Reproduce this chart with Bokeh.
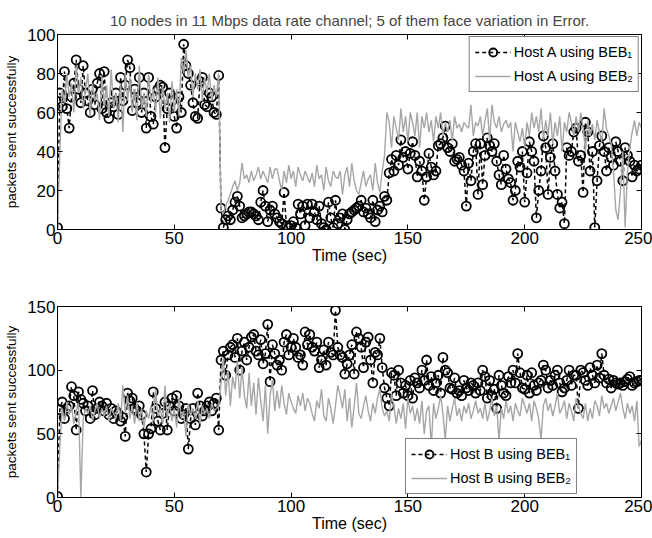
from bokeh.plotting import figure
from bokeh.layouts import column
from bokeh.models import Range1d, LinearAxis, Legend, LegendItem, FixedTicker
from bokeh.embed import file_html
from bokeh.resources import INLINE

# ---------------- data (one sample per second) ----------------
time_sec = list(range(251))

hostA_beb1 = [
    1, 70, 63, 81, 62, 52, 68, 75, 87, 72,
    65, 84, 70, 66, 60, 72, 64, 75, 80, 62,
    81, 60, 57, 65, 63, 70, 59, 78, 66, 74,
    87, 83, 61, 72, 65, 78, 60, 70, 52, 78,
    58, 54, 68, 72, 74, 73, 42, 62, 70, 66,
    58, 52, 68, 60, 95, 84, 80, 74, 65, 58,
    57, 76, 78, 64, 63, 70, 68, 60, 59, 79,
    11, 1, 5, 7, 5, 10, 14, 17, 12, 6,
    7, 8, 9, 9, 8, 7, 5, 14, 20, 12,
    4, 10, 12, 8, 6, 4, 3, 19, 2, 1,
    2, 4, 1, 13, 8, 12, 2, 13, 6, 13,
    9, 5, 12, 3, 1, 0, 14, 6, 1, 15,
    3, 6, 8, 0, 5, 8, 9, 10, 11, 12,
    15, 9, 11, 8, 6, 15, 4, 10, 12, 9,
    17, 15, 29, 36, 30, 38, 33, 46, 37, 40,
    31, 39, 45, 38, 27, 35, 30, 15, 27, 39,
    32, 28, 30, 43, 44, 47, 53, 42, 40, 44,
    35, 36, 37, 33, 30, 12, 34, 25, 40, 44,
    18, 44, 23, 38, 47, 43, 40, 44, 35, 28,
    23, 38, 31, 26, 24, 15, 20, 35, 32, 40,
    14, 29, 45, 40, 35, 6, 20, 30, 48, 42,
    18, 37, 44, 30, 18, 11, 14, 3, 42, 38,
    40, 50, 52, 35, 38, 19, 55, 50, 30, 40,
    1, 25, 43, 48, 40, 30, 42, 37, 33, 45,
    40, 35, 25, 42, 38, 35, 27, 33, 30, 31,
    33,
]

hostA_beb2 = [
    0, 40, 72, 65, 80, 68, 75, 60, 84, 70,
    78, 62, 72, 80, 58, 75, 66, 70, 56, 79,
    63, 74, 58, 82, 62, 70, 55, 75, 50, 80,
    66, 78, 60, 72, 56, 84, 62, 70, 58, 80,
    65, 72, 60, 78, 57, 74, 62, 70, 55, 76,
    60, 72, 58, 88, 80, 92, 78, 84, 68, 80,
    72, 82, 66, 78, 70, 80, 66, 74, 68, 80,
    10, 8, 12, 15, 18, 22, 25, 20, 24, 34,
    26, 28, 24, 30, 25, 28, 32, 26, 30, 27,
    24, 32, 26, 31, 31, 25, 20, 30, 24, 33,
    26, 30, 22, 32, 28, 25, 30, 27, 24, 29,
    22, 33, 26, 28, 20, 32, 25, 22, 30, 27,
    26, 30, 18, 28, 32, 22, 34, 25, 20, 18,
    24, 30, 22, 26, 28, 20, 34, 24, 19, 30,
    38, 60, 55, 42, 58, 52, 46, 62, 50, 58,
    45, 60, 55, 48, 60, 42, 58, 52, 60, 50,
    56, 45, 58, 52, 60, 48, 55, 50, 56, 45,
    58, 52, 54, 50, 55, 53, 52, 64, 48, 55,
    53, 58, 48, 56, 62, 46, 64, 55, 52, 58,
    50, 54, 56, 52, 55, 40, 55, 50, 45, 52,
    42, 55, 48, 60, 52, 58, 50, 62, 46, 56,
    48, 60, 44, 55, 48, 58, 40, 55, 50, 60,
    55, 48, 58, 50, 60, 52, 40, 56, 48, 54,
    46, 56, 50, 45, 62, 52, 48, 44, 30, 10,
    5, 20, 40, 1, 30, 42, 50, 56, 48, 55,
    52,
]

hostB_beb1 = [
    1, 69, 75, 62, 70, 72, 87, 80, 53, 83,
    77, 74, 68, 72, 62, 84, 65, 70, 75, 72,
    68, 74, 65, 70, 62, 68, 66, 60, 63, 48,
    82, 76, 78, 70, 68, 72, 65, 50, 20, 50,
    54, 83, 70, 60, 53, 66, 75, 53, 72, 78,
    68, 80, 72, 62, 65, 70, 38, 62, 70, 57,
    82, 72, 64, 68, 72, 75, 68, 74, 78, 53,
    108, 115, 96, 112, 118, 120, 110, 125, 100, 115,
    122, 108, 118, 126, 128, 115, 112, 124, 105, 113,
    136, 91, 120, 113, 104, 108, 100, 122, 128, 112,
    118, 125, 118, 110, 112, 104, 130, 120, 128, 118,
    115, 122, 102, 108, 116, 104, 122, 114, 112, 147,
    118, 112, 110, 97, 105, 112, 120, 97, 130, 125,
    118, 102, 122, 126, 108, 90, 114, 112, 125, 102,
    86, 78, 72, 98, 96, 80, 100, 90, 82, 88,
    80, 92, 78, 94, 90, 86, 100, 92, 108, 88,
    95, 84, 90, 96, 82, 110, 100, 98, 86, 85,
    94, 82, 84, 80, 92, 86, 84, 90, 88, 82,
    90, 84, 100, 95, 78, 92, 80, 85, 70, 96,
    88, 82, 80, 95, 90, 100, 90, 113, 98, 86,
    85, 96, 82, 98, 88, 84, 90, 92, 104, 100,
    86, 92, 88, 96, 100, 90, 83, 86, 92, 100,
    88, 96, 96, 70, 100, 98, 92, 88, 102, 96,
    90, 104, 94, 113, 96, 90, 93, 86, 92, 90,
    89, 90, 88, 91, 93, 95, 88, 90, 91, 92,
    92,
]

hostB_beb2 = [
    0, 40, 70, 60, 75, 65, 72, 58, 68, 74,
    0, 62, 70, 66, 72, 60, 68, 74, 62, 70,
    64, 72, 60, 70, 66, 62, 74, 60, 88, 66,
    80, 62, 72, 58, 75, 60, 70, 55, 68, 62,
    72, 60, 85, 64, 70, 58, 88, 62, 74, 60,
    70, 55, 78, 62, 68, 48, 74, 64, 70, 62,
    76, 58, 72, 66, 70, 62, 74, 68, 70, 72,
    90, 110, 80, 100, 72, 95, 85, 108, 78, 102,
    80, 70, 98, 72, 90, 65, 94, 76, 60, 88,
    50, 80, 92, 68, 84, 70, 88, 74, 65, 82,
    75, 70, 66, 80, 72, 82, 68, 78, 74, 66,
    60, 76, 70, 85, 64, 60, 78, 70, 58, 72,
    88, 80, 70, 85, 60, 78, 55, 72, 90, 66,
    62, 72, 80, 68, 60, 74, 66, 78, 85, 70,
    64, 68, 60, 82, 72, 58, 70, 62, 74, 54,
    78, 66, 72, 60, 70, 58, 76, 50, 68, 72,
    40, 74, 62, 70, 80, 66, 45, 72, 60, 70,
    78, 64, 70, 60, 72, 66, 74, 62, 68, 76,
    66, 70, 62, 74, 60, 68, 78, 64, 72, 45,
    70, 62, 76, 66, 72, 60, 74, 68, 64, 78,
    72, 66, 74, 60, 76, 70, 62, 45, 72, 78,
    68, 74, 64, 72, 82, 66, 70, 76, 62, 74,
    68, 60, 78, 72, 66, 62, 74, 60, 70, 62,
    76, 72, 64, 80, 70, 74, 66, 72, 78, 68,
    75, 82, 70, 62, 74, 66, 72, 60, 76, 40,
    45,
]

x_ticks = [0, 50, 100, 150, 200, 250]
yA_ticks = [0, 20, 40, 60, 80, 100]
yB_ticks = [0, 50, 100, 150]

title_text = "10 nodes in 11 Mbps data rate channel; 5 of them face variation in Error."
x_label = "Time (sec)"
y_label = "packets sent successfully"
labels_A = ["Host A using BEB\u2081", "Host A using BEB\u2082"]
labels_B = ["Host B using BEB\u2081", "Host B using BEB\u2082"]

FONT = "Liberation Sans"
GREY = "#a6a6a6"


def style_axis(ax, ticks, show_labels=True):
    ax.ticker = FixedTicker(ticks=ticks)
    ax.major_tick_in = 5
    ax.major_tick_out = 0
    ax.minor_tick_line_color = None
    ax.axis_line_color = "black"
    ax.major_tick_line_color = "black"
    ax.major_label_text_font = FONT
    ax.major_label_text_font_size = "17px"
    ax.major_label_text_color = "black" if show_labels else None
    ax.axis_label_text_font = FONT
    ax.axis_label_text_font_size = "16px"
    ax.axis_label_text_font_style = "normal"
    ax.axis_label_text_color = "black"


def make_panel(y1, y2, ymax, yticks, labels, title, legend_loc, border_top, border_bottom, h):
    p = figure(width=652, height=h, output_backend="svg", toolbar_location=None,
               x_range=Range1d(0, 250), y_range=Range1d(0, ymax),
               min_border_left=57, min_border_right=11,
               min_border_top=border_top, min_border_bottom=border_bottom,
               background_fill_color="white", border_fill_color="white")
    p.outline_line_color = "black"
    p.outline_line_width = 1
    p.grid.visible = False
    if title:
        p.title.text = title
        p.title.align = "center"
        p.title.text_font = FONT
        p.title.text_font_size = "15px"
        p.title.text_font_style = "normal"
        p.title.vertical_align = "top"
        p.title.standoff = 8
    style_axis(p.xaxis[0], x_ticks)
    style_axis(p.yaxis[0], yticks)
    p.xaxis[0].axis_label = x_label
    p.xaxis[0].axis_label_standoff = 0
    p.xaxis[0].major_label_standoff = 2
    p.yaxis[0].axis_label = y_label
    p.yaxis[0].axis_label_text_font_size = "13.5px"
    p.yaxis[0].axis_label_standoff = 5
    p.yaxis[0].major_label_standoff = 2

    top_ax = LinearAxis()
    style_axis(top_ax, x_ticks, show_labels=False)
    top_ax.major_label_text_font_size = "0px"
    p.add_layout(top_ax, "above")
    right_ax = LinearAxis()
    style_axis(right_ax, yticks, show_labels=False)
    right_ax.major_label_text_font_size = "0px"
    p.add_layout(right_ax, "right")

    l1 = p.line(time_sec, y1, line_color="black", line_width=1.5, line_dash="4 3")
    s1 = p.scatter(time_sec, y1, marker="circle", size=9, line_color="black",
                   line_width=1.8, fill_color=None)
    l2 = p.line(time_sec, y2, line_color=GREY, line_width=1.4)

    leg = Legend(items=[LegendItem(label=labels[0], renderers=[l1, s1]),
                        LegendItem(label=labels[1], renderers=[l2])],
                 location=legend_loc)
    leg.label_text_font = FONT
    leg.label_text_font_size = "14.5px"
    leg.label_text_color = "black"
    leg.border_line_color = "black"
    leg.border_line_width = 1
    leg.background_fill_color = "white"
    leg.background_fill_alpha = 1
    leg.glyph_width = 36
    leg.spacing = 4
    leg.padding = 5
    leg.margin = 2
    leg.label_standoff = 3
    p.add_layout(leg, "center")
    return p


pA = make_panel(hostA_beb1, hostA_beb2, 100, yA_ticks, labels_A, title_text,
                "top_right", 34, 40, 269)
pB = make_panel(hostB_beb1, hostB_beb2, 150, yB_ticks, labels_B, None,
                (348, 3), 37, 41, 269)

layout = column(pA, pB, spacing=0)
open("out.html", "w").write(file_html(layout, INLINE))
